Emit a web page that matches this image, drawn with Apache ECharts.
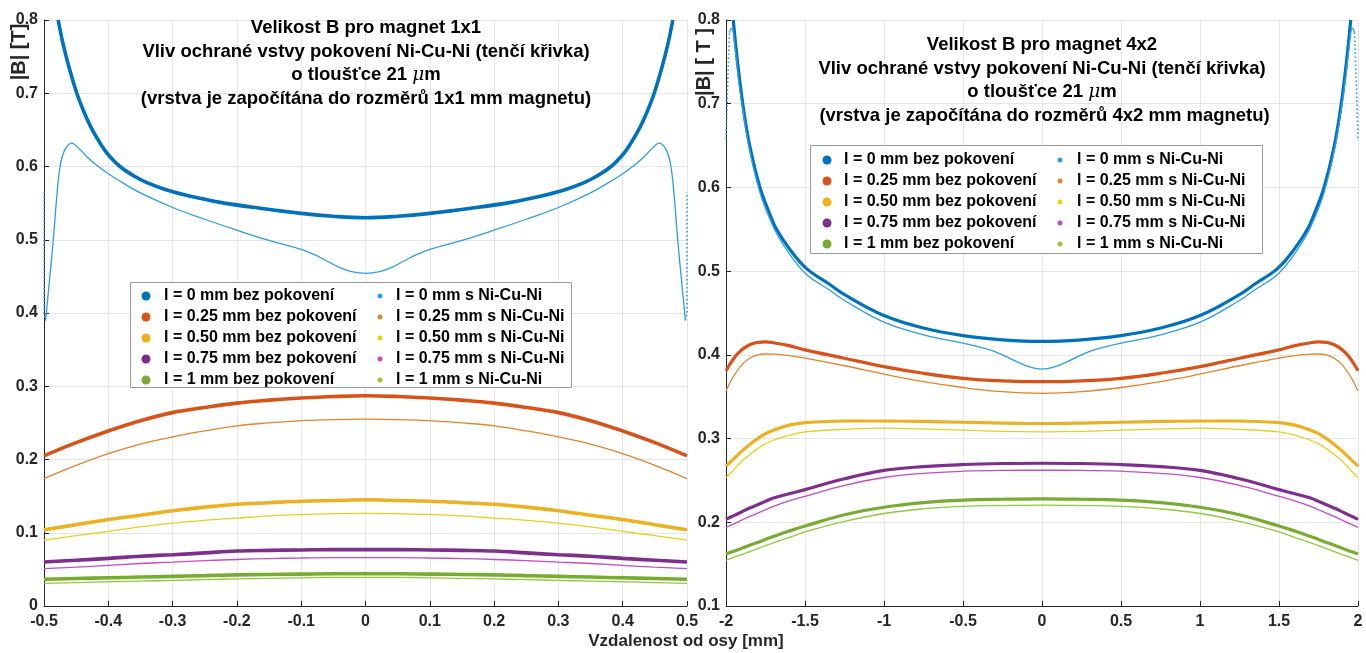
<!DOCTYPE html>
<html><head><meta charset="utf-8">
<script src="https://cdn.jsdelivr.net/npm/echarts@6.0.0/dist/echarts.min.js"></script>
<style>html,body{margin:0;padding:0;background:#fff}#c{width:1366px;height:653px}</style>
</head><body><div id="c"></div><script>
// ---------- names ----------
const thickNames = ['l = 0 mm bez pokovení','l = 0.25 mm bez pokovení','l = 0.50 mm bez pokovení','l = 0.75 mm bez pokovení','l = 1 mm bez pokovení'];
const thinNames  = ['l = 0 mm s Ni-Cu-Ni','l = 0.25 mm s Ni-Cu-Ni','l = 0.50 mm s Ni-Cu-Ni','l = 0.75 mm s Ni-Cu-Ni','l = 1 mm s Ni-Cu-Ni'];

// ---------- LEFT chart (magnet 1x1) ----------
const L_blueThickX = [-0.478,-0.47,-0.46,-0.449,-0.44,-0.426,-0.41,-0.40,-0.382,-0.36,-0.34,-0.309,-0.27,-0.226,-0.164,-0.10,-0.05,0,0.05,0.10,0.164,0.226,0.27,0.309,0.34,0.36,0.382,0.40,0.41,0.426,0.44,0.449,0.46,0.47,0.478];
const L_blueThickY = [0.80,0.766,0.732,0.70,0.679,0.652,0.628,0.616,0.600,0.587,0.578,0.568,0.559,0.551,0.543,0.536,0.532,0.530,0.532,0.536,0.543,0.551,0.559,0.568,0.578,0.587,0.600,0.616,0.628,0.652,0.679,0.70,0.732,0.766,0.80];
const L_blueThinX = [-0.4975,-0.492,-0.4855,-0.48,-0.475,-0.468,-0.457,-0.445,-0.433,-0.42,-0.40,-0.38,-0.35,-0.30,-0.25,-0.20,-0.15,-0.10,-0.08,-0.06,-0.04,-0.02,0,0.02,0.04,0.06,0.08,0.10,0.15,0.20,0.25,0.30,0.35,0.38,0.40,0.42,0.433,0.445,0.457,0.468,0.475,0.48,0.4855,0.492,0.4975];
const L_blueThinY = [0.39,0.44,0.50,0.56,0.60,0.622,0.632,0.624,0.613,0.603,0.590,0.579,0.564,0.544,0.528,0.513,0.499,0.487,0.480,0.471,0.462,0.456,0.454,0.456,0.462,0.471,0.480,0.487,0.499,0.513,0.528,0.544,0.564,0.579,0.590,0.603,0.613,0.624,0.632,0.622,0.60,0.56,0.50,0.44,0.39];
const L_edgeLX = [-0.5,-0.5,-0.4975];
const L_edgeLY = [0.565,0.40,0.39];
const L_edgeRX = [0.4975,0.5,0.5];
const L_edgeRY = [0.39,0.40,0.565];

const L_x = [-0.5,-0.45,-0.4,-0.35,-0.3,-0.25,-0.2,-0.15,-0.1,-0.05,0,0.05,0.1,0.15,0.2,0.25,0.3,0.35,0.4,0.45,0.5];
const L_orangeThick = [0.205,0.223,0.239,0.253,0.264,0.271,0.277,0.281,0.284,0.286,0.287,0.286,0.284,0.281,0.277,0.271,0.264,0.253,0.239,0.223,0.205];
const L_orangeThin  = [0.174,0.192,0.208,0.221,0.231,0.239,0.246,0.250,0.253,0.2545,0.255,0.2545,0.253,0.250,0.246,0.239,0.231,0.221,0.208,0.192,0.174];
const L_yellowThick = [0.104,0.111,0.118,0.124,0.130,0.135,0.139,0.141,0.143,0.144,0.145,0.144,0.143,0.141,0.139,0.135,0.130,0.124,0.118,0.111,0.104];
const L_yellowThin  = [0.090,0.096,0.102,0.108,0.113,0.117,0.120,0.123,0.125,0.126,0.1265,0.126,0.125,0.123,0.120,0.117,0.113,0.108,0.102,0.096,0.090];
const L_purpleThick = [0.060,0.0625,0.065,0.068,0.070,0.0725,0.075,0.076,0.0765,0.077,0.077,0.077,0.0765,0.076,0.075,0.0725,0.070,0.068,0.065,0.0625,0.060];
const L_purpleThin  = [0.051,0.053,0.0555,0.058,0.060,0.062,0.0635,0.0648,0.0655,0.066,0.066,0.066,0.0655,0.0648,0.0635,0.062,0.060,0.058,0.0555,0.053,0.051];
const L_greenThick  = [0.0365,0.0375,0.0385,0.0395,0.0405,0.0415,0.0425,0.043,0.0435,0.044,0.044,0.044,0.0435,0.043,0.0425,0.0415,0.0405,0.0395,0.0385,0.0375,0.0365];
const L_greenThin   = [0.031,0.032,0.033,0.034,0.035,0.036,0.037,0.0378,0.0385,0.039,0.039,0.039,0.0385,0.0378,0.037,0.036,0.035,0.034,0.033,0.032,0.031];

// ---------- RIGHT chart (magnet 4x2) ----------
const R_blueThickX = [-1.954,-1.93,-1.894,-1.85,-1.785,-1.72,-1.68,-1.6,-1.49,-1.35,-1.25,-1,-0.75,-0.5,-0.25,0,0.25,0.5,0.75,1,1.25,1.35,1.49,1.6,1.68,1.72,1.785,1.85,1.894,1.93,1.954];
const R_blueThickY = [0.80,0.755,0.70,0.65,0.60,0.567,0.55,0.527,0.503,0.485,0.472,0.447,0.432,0.423,0.418,0.416,0.418,0.423,0.432,0.447,0.472,0.485,0.503,0.527,0.55,0.567,0.60,0.65,0.70,0.755,0.80];
const R_blueThinX = [-1.978,-1.966,-1.955,-1.94,-1.92,-1.894,-1.85,-1.785,-1.72,-1.68,-1.6,-1.49,-1.35,-1.25,-1,-0.75,-0.5,-0.35,-0.25,-0.15,-0.07,0,0.07,0.15,0.25,0.35,0.5,0.75,1,1.25,1.35,1.49,1.6,1.68,1.72,1.785,1.85,1.894,1.92,1.94,1.955,1.966,1.978];
const R_blueThinY = [0.785,0.79,0.786,0.762,0.728,0.693,0.644,0.594,0.561,0.545,0.521,0.496,0.478,0.465,0.439,0.424,0.414,0.407,0.400,0.391,0.385,0.383,0.385,0.391,0.400,0.407,0.414,0.424,0.439,0.465,0.478,0.496,0.521,0.545,0.561,0.594,0.644,0.693,0.728,0.762,0.786,0.79,0.785];
const R_edgeLX = [-2,-1.997,-1.99,-1.978];
const R_edgeLY = [0.658,0.672,0.72,0.785];
const R_edgeRX = [1.978,1.99,1.997,2];
const R_edgeRY = [0.785,0.72,0.672,0.658];

const R_x = [-2,-1.95,-1.9,-1.85,-1.8,-1.75,-1.7,-1.6,-1.5,-1.25,-1,-0.75,-0.5,-0.25,0,0.25,0.5,0.75,1,1.25,1.5,1.6,1.7,1.75,1.8,1.85,1.9,1.95,2];
const R_orangeThick = [0.381,0.396,0.406,0.412,0.415,0.4155,0.4145,0.411,0.406,0.396,0.386,0.378,0.372,0.369,0.368,0.369,0.372,0.378,0.386,0.396,0.406,0.411,0.4145,0.4155,0.415,0.412,0.406,0.396,0.381];
const R_orangeThin  = [0.357,0.375,0.388,0.396,0.400,0.401,0.4008,0.399,0.396,0.387,0.377,0.368,0.361,0.356,0.354,0.356,0.361,0.368,0.377,0.387,0.396,0.399,0.4008,0.401,0.400,0.396,0.388,0.375,0.357];
const R_yellowThick = [0.267,0.276,0.285,0.293,0.300,0.306,0.310,0.316,0.319,0.321,0.321,0.3205,0.3195,0.3185,0.318,0.3185,0.3195,0.3205,0.321,0.321,0.319,0.316,0.310,0.306,0.300,0.293,0.285,0.276,0.267];
const R_yellowThin  = [0.253,0.263,0.273,0.281,0.288,0.294,0.298,0.304,0.308,0.311,0.3125,0.3115,0.310,0.3085,0.308,0.3085,0.310,0.3115,0.3125,0.311,0.308,0.304,0.298,0.294,0.288,0.281,0.273,0.263,0.253];
const R_purpleThick = [0.2035,0.208,0.2125,0.217,0.221,0.225,0.229,0.234,0.239,0.252,0.262,0.2665,0.269,0.2702,0.2705,0.2702,0.269,0.2665,0.262,0.252,0.239,0.234,0.229,0.225,0.221,0.217,0.2125,0.208,0.2035];
const R_purpleThin  = [0.194,0.198,0.2025,0.207,0.211,0.215,0.219,0.2255,0.231,0.244,0.2535,0.2585,0.261,0.262,0.2622,0.262,0.261,0.2585,0.2535,0.244,0.231,0.2255,0.219,0.215,0.211,0.207,0.2025,0.198,0.194];
const R_greenThick  = [0.162,0.1655,0.169,0.1725,0.176,0.1795,0.183,0.1895,0.1955,0.209,0.218,0.2235,0.2265,0.2275,0.228,0.2275,0.2265,0.2235,0.218,0.209,0.1955,0.1895,0.183,0.1795,0.176,0.1725,0.169,0.1655,0.162];
const R_greenThin   = [0.1545,0.158,0.1615,0.165,0.1685,0.172,0.1755,0.182,0.1885,0.201,0.2105,0.216,0.219,0.220,0.2205,0.220,0.219,0.216,0.2105,0.201,0.1885,0.182,0.1755,0.172,0.1685,0.165,0.1615,0.158,0.1545];

// ---------- tick settings ----------
const L_xTicks = {min:-0.5, max:0.5, interval:0.1};
const L_yTicks = {min:0, max:0.8, interval:0.1};
const R_xTicks = {min:-2, max:2, interval:0.5};
const R_yTicks = {min:0.1, max:0.8, interval:0.1};

// ---------- styles ----------
const thickColors = ['#0072BD','#D95319','#EDB120','#7E2F8E','#77AC30'];
const thinColors  = ['#2C9DE8','#E5832A','#E8D01E','#C44CC8','#8FCB3A'];
const FONT = '"Liberation Sans", Arial, Helvetica, sans-serif';
const TXT = '#262626';

function zip(xs, ys){ return xs.map((x,i)=>[x, ys[i]]); }
function line(name, data, color, width, gi, opts){
  return Object.assign({
    type:'line', name, data, xAxisIndex:gi, yAxisIndex:gi,
    showSymbol:false, symbol:'none', smooth:0.4,
    lineStyle:{color, width}, itemStyle:{color}, emphasis:{disabled:true}, z:2
  }, opts||{});
}
const TH_L = 3.6, TH_R = 3.2, TN = 1.3;
const dotted = c => ({smooth:false, lineStyle:{color:c, width:1.6, type:[1.5,2.5]}});
const series = [
  line(thickNames[0], zip(L_blueThickX, L_blueThickY), thickColors[0], TH_L, 0),
  line(thickNames[1], zip(L_x, L_orangeThick), thickColors[1], TH_L, 0),
  line(thickNames[2], zip(L_x, L_yellowThick), thickColors[2], TH_L, 0),
  line(thickNames[3], zip(L_x, L_purpleThick), thickColors[3], TH_L, 0),
  line(thickNames[4], zip(L_x, L_greenThick), thickColors[4], TH_L, 0),
  line(thinNames[0], zip(L_blueThinX, L_blueThinY), thinColors[0], TN, 0),
  line(thinNames[1], zip(L_x, L_orangeThin), thinColors[1], TN, 0),
  line(thinNames[2], zip(L_x, L_yellowThin), thinColors[2], TN, 0),
  line(thinNames[3], zip(L_x, L_purpleThin), thinColors[3], TN, 0),
  line(thinNames[4], zip(L_x, L_greenThin), thinColors[4], TN, 0),
  line(thinNames[0], zip(L_edgeLX, L_edgeLY), thinColors[0], 1.6, 0, dotted(thinColors[0])),
  line(thinNames[0], zip(L_edgeRX, L_edgeRY), thinColors[0], 1.6, 0, dotted(thinColors[0])),

  line(thickNames[0], zip(R_blueThickX, R_blueThickY), thickColors[0], TH_R, 1),
  line(thickNames[1], zip(R_x, R_orangeThick), thickColors[1], TH_R, 1),
  line(thickNames[2], zip(R_x, R_yellowThick), thickColors[2], TH_R, 1),
  line(thickNames[3], zip(R_x, R_purpleThick), thickColors[3], TH_R, 1),
  line(thickNames[4], zip(R_x, R_greenThick), thickColors[4], TH_R, 1),
  line(thinNames[0], zip(R_blueThinX, R_blueThinY), thinColors[0], TN, 1),
  line(thinNames[1], zip(R_x, R_orangeThin), thinColors[1], TN, 1),
  line(thinNames[2], zip(R_x, R_yellowThin), thinColors[2], TN, 1),
  line(thinNames[3], zip(R_x, R_purpleThin), thinColors[3], TN, 1),
  line(thinNames[4], zip(R_x, R_greenThin), thinColors[4], TN, 1),
  line(thinNames[0], zip(R_edgeLX, R_edgeLY), thinColors[0], 1.6, 1, dotted(thinColors[0])),
  line(thinNames[0], zip(R_edgeRX, R_edgeRY), thinColors[0], 1.6, 1, dotted(thinColors[0]))
];

function fmt(v){ const r = Math.round(v*100)/100; return String(r === 0 ? 0 : r); }
function xAx(gi, t){
  return {type:'value', gridIndex:gi, min:t.min, max:t.max, interval:t.interval,
    axisLine:{show:true, onZero:false, lineStyle:{color:TXT, width:1}},
    axisTick:{show:true, inside:true, length:5, lineStyle:{color:TXT}},
    axisLabel:{color:TXT, fontSize:16, fontWeight:'bold', fontFamily:FONT, margin:8, formatter:fmt, showMinLabel:true, showMaxLabel:true},
    splitLine:{show:true, lineStyle:{color:'#e6e6e6', width:1}}};
}
function yAx(gi, t){
  return {type:'value', gridIndex:gi, min:t.min, max:t.max, interval:t.interval,
    axisLine:{show:true, onZero:false, lineStyle:{color:TXT, width:1}},
    axisTick:{show:true, inside:true, length:5, lineStyle:{color:TXT}},
    axisLabel:{color:TXT, fontSize:16, fontWeight:'bold', fontFamily:FONT, margin:6, formatter:fmt, showMinLabel:true, showMaxLabel:true},
    splitLine:{show:true, lineStyle:{color:'#e6e6e6', width:1}}};
}
function legend(names, left, top, w, h){
  return {data:names, orient:'vertical', left, top, icon:'circle', itemWidth:w, itemHeight:h, itemGap:5,
    selectedMode:false, padding:0, z:10,
    textStyle:{color:'#000', fontSize:16, fontWeight:'bold', fontFamily:FONT, lineHeight:16}};
}
const TF = 18.5;
const mu = {fontFamily:'"DejaVu Serif", serif', fontStyle:'italic', fontWeight:'normal', fontSize:TF, lineHeight:23.7};
function titleText(x, y, lines){
  return {type:'text', x, y, z:20, style:{text:lines.join('\n'), align:'center', verticalAlign:'top',
    font:'bold ' + TF + 'px ' + FONT, lineHeight:23.7, fill:'#000', rich:{mu}}};
}
const chart = echarts.init(document.getElementById('c'), null, {renderer:'canvas'});
chart.setOption({
  animation:false,
  backgroundColor:'#fff',
  grid:[
    {left:44, right:679, top:20, bottom:47, outerBoundsMode:'none', containLabel:false},
    {left:726, right:8, top:20, bottom:47, outerBoundsMode:'none', containLabel:false}
  ],
  xAxis:[xAx(0, L_xTicks), xAx(1, R_xTicks)],
  yAxis:[yAx(0, L_yTicks), yAx(1, R_yTicks)],
  legend:[
    legend(thickNames, 141.5, 288, 26, 9),
    legend(thinNames, 377.5, 288, 22, 5),
    legend(thickNames, 822.5, 152, 24, 9),
    legend(thinNames, 1057.5, 152, 24, 5)
  ],
  graphic:[
    {type:'rect', z:5, shape:{x:130.5, y:282.5, width:441, height:105}, style:{fill:'#fff', stroke:'#9a9a9a', lineWidth:1}},
    {type:'rect', z:5, shape:{x:810.5, y:145.5, width:452, height:108}, style:{fill:'#fff', stroke:'#9a9a9a', lineWidth:1}},
    titleText(366, 16, ['Velikost B pro magnet 1x1','Vliv ochrané vstvy pokovení Ni-Cu-Ni (tenčí křivka)','o tloušťce 21 {mu|μ}m','(vrstva je započítána do rozměrů 1x1 mm magnetu)']),
    titleText(1042, 33, ['Velikost B pro magnet 4x2','Vliv ochrané vstvy pokovení Ni-Cu-Ni (tenčí křivka)','o tloušťce 21 {mu|μ}m',' (vrstva je započítána do rozměrů 4x2 mm magnetu)']),
    {type:'text', x:19, y:52, rotation:Math.PI/2, z:20, style:{text:'|B| [T]', align:'center', verticalAlign:'middle', font:'bold 20px ' + FONT, fill:TXT}},
    {type:'text', x:704, y:62, rotation:Math.PI/2, z:20, style:{text:'|B| [ T ]', align:'center', verticalAlign:'middle', font:'bold 20px ' + FONT, fill:TXT}},
    {type:'text', x:686, y:641, z:20, style:{text:'Vzdalenost od osy [mm]', align:'center', verticalAlign:'middle', font:'bold 17px ' + FONT, fill:TXT}}
  ],
  series
});
</script></body></html>
